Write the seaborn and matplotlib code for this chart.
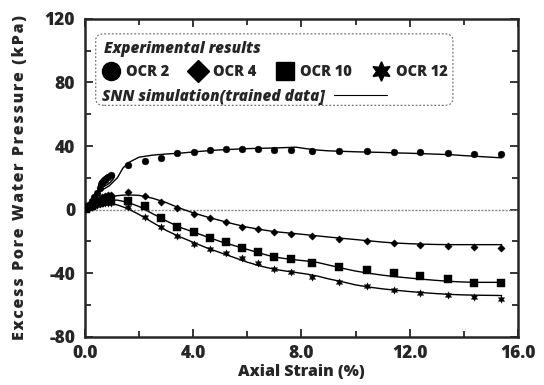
import numpy as np
import pandas as pd
import seaborn as sns
import matplotlib
matplotlib.use("Agg")
import matplotlib.pyplot as plt
from matplotlib.lines import Line2D
from matplotlib.patches import FancyBboxPatch, Ellipse
from matplotlib.transforms import ScaledTranslation

# ---------------- data ----------------
series_names = ["OCR 2", "OCR 4", "OCR 10", "OCR 12"]

exp_strain = [0.05, 0.15, 0.25, 0.35, 0.45, 0.55, 0.65, 0.75, 0.85, 0.95,
              1.6, 2.22, 2.82, 3.42, 4.02, 4.62, 5.2, 5.8, 6.38, 6.99, 7.6,
              8.4, 9.4, 10.42, 11.42, 12.4, 13.42, 14.38, 15.38]
exp_ocr2 = [1.0, 3.0, 5.5, 8.0, 10.5, 13.5, 16.5, 18.5, 20.5, 22.0,
            27.9, 30.6, 32.8, 35.5, 36.4, 37.4, 38.0, 38.4, 38.4, 37.6, 37.5,
            37.1, 36.9, 36.6, 36.3, 36.0, 35.6, 35.1, 34.7]
exp_ocr4 = [1.0, 2.5, 4.0, 5.0, 6.0, 7.0, 8.0, 8.5, 9.0, 9.5,
            10.9, 8.4, 5.1, 0.8, -2.5, -5.5, -8.0, -10.7, -12.2, -13.9, -15.1,
            -16.6, -18.2, -20.0, -21.1, -22.0, -22.6, -23.5, -23.8]
exp_ocr10 = [0.5, 1.5, 2.5, 3.5, 4.0, 4.5, 5.0, 5.5, 6.0, 6.0,
             5.7, 2.1, -5.5, -10.7, -14.3, -17.9, -20.6, -23.8, -26.5, -29.5, -31.3,
             -33.8, -35.8, -38.1, -40.0, -41.8, -43.9, -46.0, -46.4]
exp_ocr12 = [0.3, 1.0, 1.8, 2.5, 3.0, 3.5, 4.0, 4.0, 4.2, 4.0,
             1.5, -4.8, -11.2, -16.4, -21.7, -24.8, -27.4, -30.7, -33.7, -37.1, -39.2,
             -42.3, -45.5, -48.1, -50.4, -52.3, -53.7, -54.9, -56.1]

sim_strain = [0.0, 0.3, 0.6, 0.9, 1.2, 1.4, 1.6, 2.0, 2.5, 3.0, 3.5, 4.0, 4.5,
              5.0, 5.5, 6.0, 6.5, 7.0, 7.5, 7.8, 8.2, 8.6, 9.0, 9.5, 10.0,
              10.5, 11.0, 11.5, 12.0, 12.5, 13.0, 13.5, 14.0, 14.5, 15.0, 15.4]
sim_ocr2 = [0.0, 7.0, 12.0, 15.0, 20.0, 26.0, 29.5, 33.0, 34.3, 35.0, 35.5, 36.3, 37.0,
            37.6, 38.0, 38.4, 38.6, 38.8, 39.1, 39.3, 38.3, 37.5, 37.0, 36.7, 36.4,
            36.2, 36.0, 35.7, 35.5, 35.2, 34.9, 34.6, 34.0, 33.5, 33.0, 32.6]
sim_ocr4 = [0.0, 3.0, 6.0, 8.0, 8.8, 9.1, 9.3, 9.0, 7.2, 4.5, 1.0, -2.0, -4.5,
            -6.8, -9.0, -11.0, -12.5, -13.8, -14.6, -15.1, -15.8, -16.5, -17.2, -18.0, -18.8,
            -19.6, -20.4, -21.0, -21.4, -21.7, -21.9, -22.0, -22.0, -22.0, -22.0, -22.0]
sim_ocr10 = [0.0, 3.0, 5.0, 6.0, 6.0, 5.3, 4.5, 2.0, -2.5, -7.0, -11.0, -14.0, -17.0,
             -20.0, -22.5, -25.0, -27.5, -29.8, -31.0, -31.6, -32.3, -33.2, -34.8, -36.8, -38.6,
             -40.0, -41.2, -42.2, -43.0, -43.8, -44.5, -45.1, -45.5, -45.7, -45.7, -45.7]
sim_ocr12 = [0.0, 2.0, 3.5, 4.0, 3.0, 1.8, 0.5, -3.0, -8.0, -13.0, -17.0, -20.5, -24.0,
             -27.0, -30.0, -33.0, -35.5, -37.5, -38.8, -39.5, -40.5, -41.8, -43.5, -45.3, -47.3,
             -48.7, -49.8, -50.7, -51.5, -52.2, -52.8, -53.3, -53.6, -53.8, -53.9, -54.0]

x_ticks = [0, 4, 8, 12, 16]
x_ticklabels = ["0.0", "4.0", "8.0", "12.0", "16.0"]
y_ticks = [-80, -40, 0, 40, 80, 120]
y_ticklabels = ["-80", "-40", "0", "40", "80", "120"]

# ---------------- build tables ----------------
exp_df = pd.concat([
    pd.DataFrame({"strain": exp_strain, "pwp": v, "test": n})
    for n, v in zip(series_names, [exp_ocr2, exp_ocr4, exp_ocr10, exp_ocr12])
], ignore_index=True)
sim_df = pd.concat([
    pd.DataFrame({"strain": sim_strain, "pwp": v, "test": n})
    for n, v in zip(series_names, [sim_ocr2, sim_ocr4, sim_ocr10, sim_ocr12])
], ignore_index=True)

# ---------------- style ----------------
sns.set_style("ticks")
plt.rcParams["font.family"] = ["Open Sans", "DejaVu Sans"]
plt.rcParams["font.weight"] = "bold"

fig = plt.figure(figsize=(5.44, 3.85), dpi=100)
ax = fig.add_axes([0.156, 0.125, 0.796, 0.826])

markers = {"OCR 2": "o", "OCR 4": "D", "OCR 10": "s", "OCR 12": (6, 1, 0)}
sizes = {"OCR 2": 24, "OCR 4": 14, "OCR 10": 26, "OCR 12": 28}

ax.axhline(0, color="#888888", lw=1.0, ls=(0, (1.5, 1)), zorder=1)

sns.lineplot(data=sim_df, x="strain", y="pwp", units="test", estimator=None,
             sort=False, color="black", lw=1.0, ax=ax, legend=False, zorder=2)
for n in series_names:
    sub = exp_df[exp_df["test"] == n]
    sns.scatterplot(data=sub, x="strain", y="pwp", marker=markers[n], s=sizes[n],
                    color="black", edgecolor="black", linewidth=0.3, ax=ax,
                    legend=False, zorder=3)

# small hand-drawn oval around early OCR 2 points (size in inches)
oval_tr = fig.dpi_scale_trans + ScaledTranslation(0.8, 18.5, ax.transData)
ax.add_patch(Ellipse((0, 0), width=0.19, height=0.08, angle=38,
                     fill=False, ec="black", lw=1.0, zorder=4, transform=oval_tr))

ax.set_xlim(0, 16)
ax.set_ylim(-80, 120)
ax.set_xticks(x_ticks)
ax.set_xticklabels(x_ticklabels)
ax.set_yticks(y_ticks)
ax.set_yticklabels(y_ticklabels)
ax.set_xticks([2, 6, 10, 14], minor=True)
ax.set_yticks([-60, -20, 20, 60, 100], minor=True)
ax.tick_params(which="both", direction="in", top=True, right=True, width=1.3)
ax.tick_params(which="major", length=6, labelsize=12.5)
ax.tick_params(axis="x", which="major", pad=6)
ax.tick_params(axis="y", which="major", pad=7)
ax.tick_params(which="minor", length=4)
for lab in ax.get_xticklabels() + ax.get_yticklabels():
    lab.set_fontweight("heavy")
for sp in ax.spines.values():
    sp.set_linewidth(1.8)
    sp.set_visible(True)

ax.set_xlabel("Axial Strain (%)", fontsize=11.5, fontweight="heavy", labelpad=1)
ylab = "\u200a".join("Excess Pore Water Pressure (kPa)")
ax.set_ylabel(ylab, fontsize=11.5, fontweight="heavy", labelpad=12)

# ---------------- legend box ----------------
box = FancyBboxPatch((0.025, 0.728), 0.825, 0.225, transform=ax.transAxes,
                     boxstyle="round,pad=0,rounding_size=0.02",
                     fill=False, ec="#777777", lw=0.9, ls=(0, (1.5, 1.5)), zorder=5)
ax.add_patch(box)

handles = [Line2D([], [], ls="", marker=markers[n], color="black",
                  markersize={"OCR 2": 13, "OCR 4": 11, "OCR 10": 13, "OCR 12": 14}[n])
           for n in series_names]
leg1 = ax.legend(handles, series_names, ncol=4, loc="upper left",
                 bbox_to_anchor=(0.03, 0.95), frameon=False,
                 title="Experimental results", alignment="left",
                 handletextpad=0.55, columnspacing=1.45, handlelength=1.0,
                 borderaxespad=0, prop={"weight": "heavy", "size": 10.5})
leg1.get_title().set_fontweight("heavy")
leg1.get_title().set_fontstyle("italic")
leg1.get_title().set_fontsize(11)
ax.add_artist(leg1)

leg2 = ax.legend([Line2D([], [], color="black", lw=0.8)],
                 ["SNN simulation(trained data]"], loc="upper left",
                 bbox_to_anchor=(0.025, 0.80), frameon=False, markerfirst=False,
                 handlelength=3.5, handletextpad=0.6, borderaxespad=0,
                 prop={"weight": "heavy", "style": "italic", "size": 11})

fig.savefig("out.png", dpi=100)
